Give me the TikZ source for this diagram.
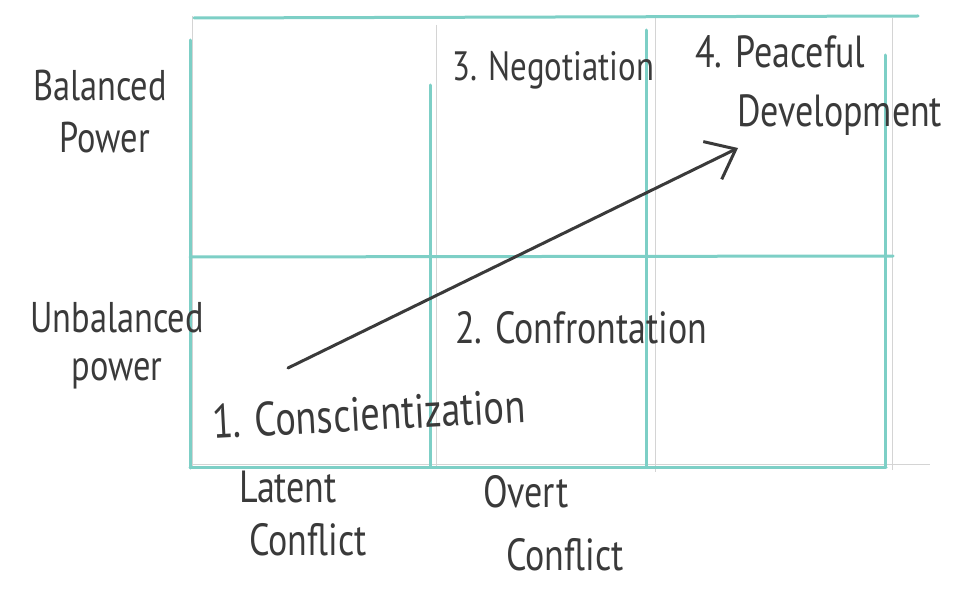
\documentclass[tikz,border=0pt]{standalone}
\usepackage{fontspec}
\setmainfont{PT Sans}[FakeStretch=0.8]
\usetikzlibrary{arrows.meta}
\definecolor{tealpen}{HTML}{7DCFC6}
\definecolor{pencil}{HTML}{D4D4D4}
\definecolor{ink}{HTML}{3A3A3A}
\tikzset{
  gridline/.style={draw=tealpen, line width=3pt, line cap=round},
  pencilline/.style={draw=pencil, line width=0.5pt},
  lbl/.style={text=ink, font=\fontsize{45}{47}\selectfont, inner sep=0pt},
  trend/.style={draw=ink, line width=3pt, line cap=round, -{Straight Barb[length=26pt, width=42pt, line width=3pt]}}
}
\begin{document}
\begin{tikzpicture}[x=1pt, y=-1pt]
\useasboundingbox (0,0) rectangle (962,591);
% pencil construction lines
\draw[pencilline] (192,16) -- (192,468);
\draw[pencilline] (436,25) -- (436,468);
\draw[pencilline] (655,18) -- (655,472);
\draw[pencilline] (892,18) -- (892,470);
\draw[pencilline] (192,464) -- (930,464);
% teal grid
\draw[gridline] (194,18) -- (918,16);
\draw[gridline] (190,40) -- (190,468);
\draw[gridline] (430,85) -- (430,466);
\draw[gridline] (646,30) -- (646,467);
\draw[gridline] (885,55) -- (885,467);
\draw[gridline] (190,257) -- (893,256);
\draw[gridline] (190,467) -- (886,467);
% labels
\node[lbl, font=\fontsize{43}{45}\selectfont] (bal) at (100,86) {Balanced};
\node[lbl, font=\fontsize{43}{45}\selectfont] (balp) at (105,138) {Power};
\node[lbl, font=\fontsize{43}{45}\selectfont] (unb) at (117,318) {Unbalanced};
\node[lbl, font=\fontsize{43}{45}\selectfont] (unbp) at (117,374) {power};
\node[lbl, anchor=west, font=\fontsize{41}{43}\selectfont] (neg) at (452,70) {3. Negotiation};
\node[lbl, anchor=west] (peace) at (695,52) {4. Peaceful};
\node[lbl, anchor=west] (dev) at (737,115) {Development};
\node[lbl, anchor=west] (conf) at (455,328) {2. Confrontation};
\node[lbl, anchor=west, rotate=3, font=\fontsize{48}{50}\selectfont] (consc) at (212,422) {1. Conscientization};
\node[lbl] (lat) at (288,487) {Latent};
\node[lbl] (latc) at (308,540) {Conflict};
\node[lbl] (ov) at (526,492) {Overt};
\node[lbl] (ovc) at (565,555) {Conflict};
% arrow
\coordinate (start) at (288,368);
\coordinate (end) at (738,148);
\draw[trend] (start) -- (end);
\end{tikzpicture}
\end{document}
